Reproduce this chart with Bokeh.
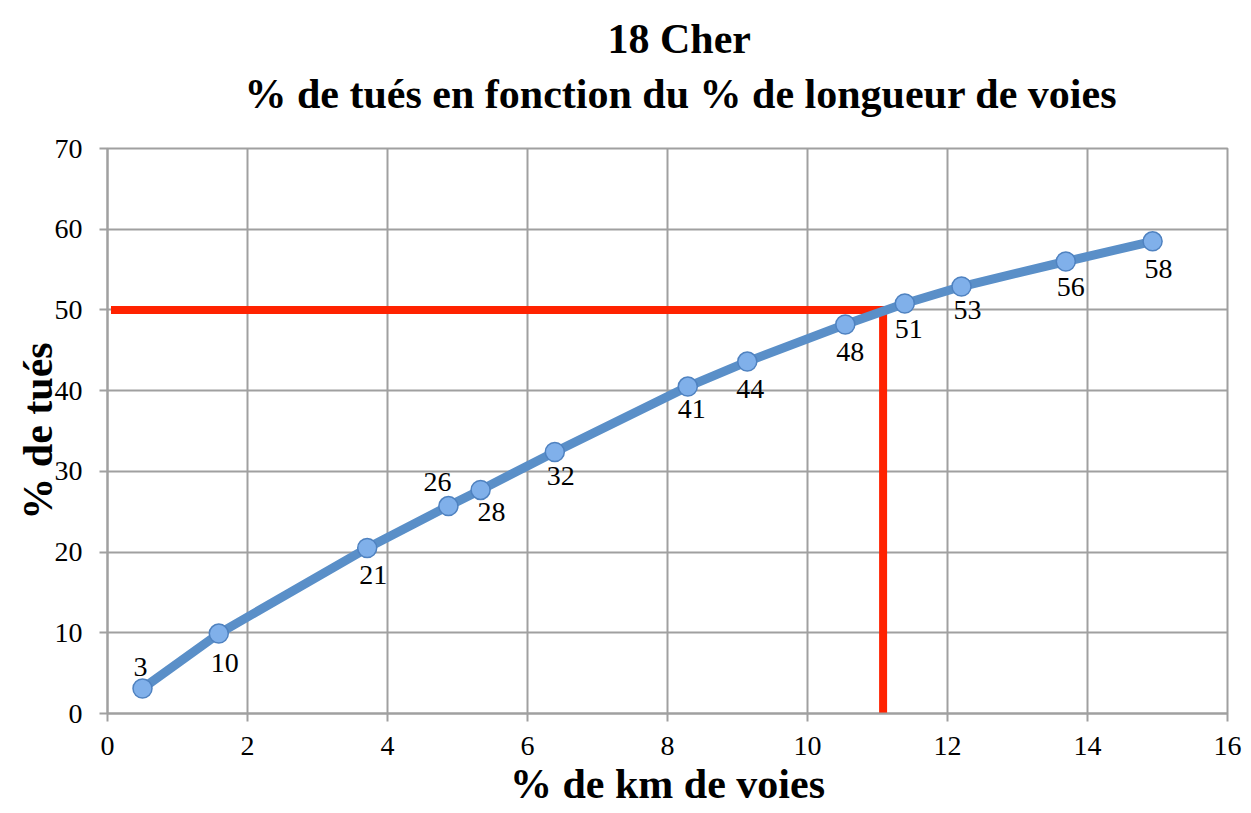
from bokeh.plotting import figure
from bokeh.models import Range1d, FixedTicker, ColumnDataSource, Title
from bokeh.core.properties import value
from bokeh.embed import file_html
from bokeh.resources import INLINE

# ---- data ----
km_pct = [0.50, 1.59, 3.71, 4.87, 5.33, 6.39, 8.29, 9.14, 10.54, 11.39, 12.20, 13.69, 14.93]
tues_pct = [3.1, 9.9, 20.5, 25.7, 27.7, 32.4, 40.5, 43.6, 48.2, 50.8, 52.9, 56.0, 58.5]
point_labels = ["3", "10", "21", "26", "28", "32", "41", "44", "48", "51", "53", "56", "58"]
x_ticks = [0, 2, 4, 6, 8, 10, 12, 14, 16]
y_ticks = [0, 10, 20, 30, 40, 50, 60, 70]
ref_x = [0.05, 11.08, 11.08]
ref_y = [50, 50, 0]

title_1 = "18 Cher"
title_2 = "% de tués en fonction du % de longueur de voies"
x_title = "% de km de voies"
y_title = "% de tués"

# label offsets (screen px)
lab_dx = [-2, 6, 6, -11, 11, 6, 4, 3, 5, 4, 6, 5, 6]
lab_dy = [-21, 29, 27, -24, 22, 24, 22, 27, 28, 26, 23, 25, 28]

GRID = "#a0a0a0"
SERIF = "Liberation Serif"

p = figure(width=1251, height=813, output_backend="svg", toolbar_location=None,
           x_range=Range1d(0, 16), y_range=Range1d(0, 70),
           min_border_left=107, min_border_right=24, min_border_top=0, min_border_bottom=100)
p.background_fill_color = "white"
p.border_fill_color = "white"
p.outline_line_color = GRID
p.outline_line_width = 2

for ax, ticks in ((p.xaxis, x_ticks), (p.yaxis, y_ticks)):
    ax.ticker = FixedTicker(ticks=ticks)
    ax.axis_line_color = GRID
    ax.axis_line_width = 2
    ax.major_tick_line_color = GRID
    ax.major_tick_line_width = 2
    ax.major_tick_out = 8
    ax.major_tick_in = 0
    ax.minor_tick_line_color = None
    ax.major_label_text_font = SERIF
    ax.major_label_text_font_size = "28px"
    ax.major_label_text_color = "black"
    ax.axis_label_text_font = SERIF
    ax.axis_label_text_font_style = "bold"
    ax.axis_label_text_font_size = "42px"
    ax.axis_label_text_color = "black"
p.xaxis.major_label_standoff = 15
p.yaxis.major_label_standoff = 17
p.xaxis.axis_label = x_title
p.yaxis.axis_label = y_title
p.xaxis.axis_label_standoff = 3
p.yaxis.axis_label_standoff = -9

p.xgrid.ticker = FixedTicker(ticks=x_ticks)
p.ygrid.ticker = FixedTicker(ticks=y_ticks)
for g in (p.xgrid, p.ygrid):
    g.grid_line_color = GRID
    g.grid_line_width = 2

# reference red lines
p.line(ref_x, ref_y, line_color="#ff2200", line_width=8, line_cap="butt", line_join="miter")

# series
src = ColumnDataSource(dict(x=km_pct, y=tues_pct, t=point_labels, dx=lab_dx, dy=lab_dy))
p.line("x", "y", source=src, line_color="#5a8fc8", line_width=9, line_join="round", line_cap="round")
p.scatter("x", "y", source=src, size=19, fill_color="#80b0ea", line_color="#4f82c0", line_width=1.5)
p.text("x", "y", text="t", source=src, x_offset="dx", y_offset="dy",
       text_font=value(SERIF), text_font_size="28px", text_color="black",
       text_align="center", text_baseline="middle")

# stacked titles, first added sits closest to the plot
p.add_layout(Title(text=title_2, text_font=SERIF, text_font_style="bold", text_font_size="42px",
                   text_color="black", align="left", offset=137, standoff=64), "above")
p.add_layout(Title(text=title_1, text_font=SERIF, text_font_style="bold", text_font_size="42px",
                   text_color="black", align="left", offset=500, standoff=-50), "above")
p.add_layout(Title(text=" ", text_font=SERIF, text_font_size="16px",
                   align="left", standoff=17), "above")

open("out.html", "w").write(file_html(p, INLINE))
